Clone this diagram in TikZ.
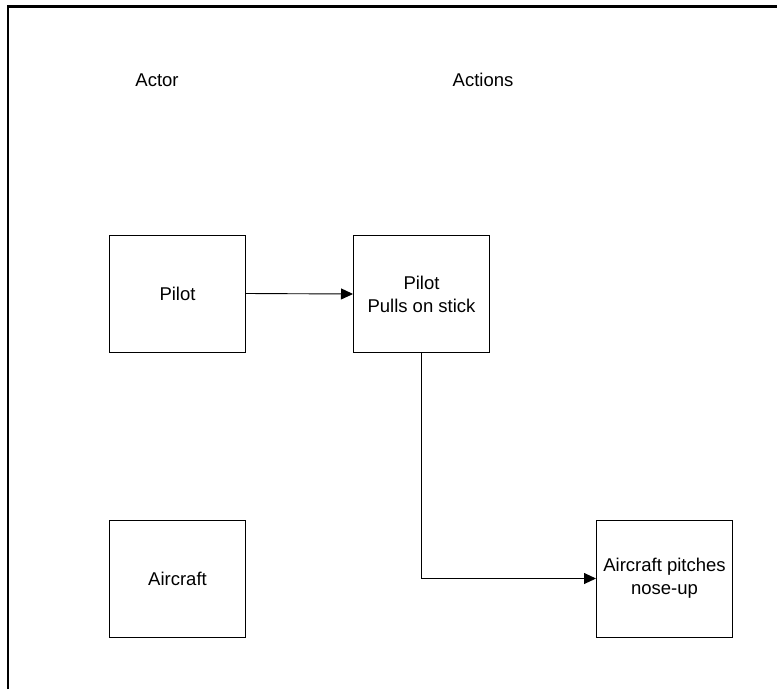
\documentclass[tikz,border=0pt]{standalone}
\usepackage{fontspec}
\setmainfont{Liberation Sans}
\usetikzlibrary{arrows.meta}
\begin{document}
\begin{tikzpicture}[x=1pt,y=-1pt,
  lbl/.style={font=\fontsize{18.5}{23}\selectfont, align=center, inner sep=0pt},
  box/.style={draw=black, line width=1pt, minimum width=136pt, minimum height=117pt, inner sep=0pt, lbl},
  flow/.style={draw=black, line width=0.9pt, -{Triangle[length=12pt,width=11pt]}}]
  \useasboundingbox (0,0) rectangle (777,689);
  % frame
  \draw[line width=2.2pt] (8,689) -- (8,6.5) -- (777,6.5);
  % column headings
  \node[lbl] (hactor) at (157,80) {Actor};
  \node[lbl] (hactions) at (483,80) {Actions};
  % boxes
  \node[box] (pilot) at (177.5,293.5) {Pilot};
  \node[box] (pull) at (421.5,294) {Pilot\\Pulls on stick};
  \node[box] (aircraft) at (177.5,578.5) {Aircraft};
  \node[box] (pitch) at (664.5,578.5) {Aircraft pitches\\nose-up};
  % connectors
  \draw[flow] (pilot.east) -- (pull.west);
  \draw[flow] (pull.south) |- (pitch.west);
\end{tikzpicture}
\end{document}
